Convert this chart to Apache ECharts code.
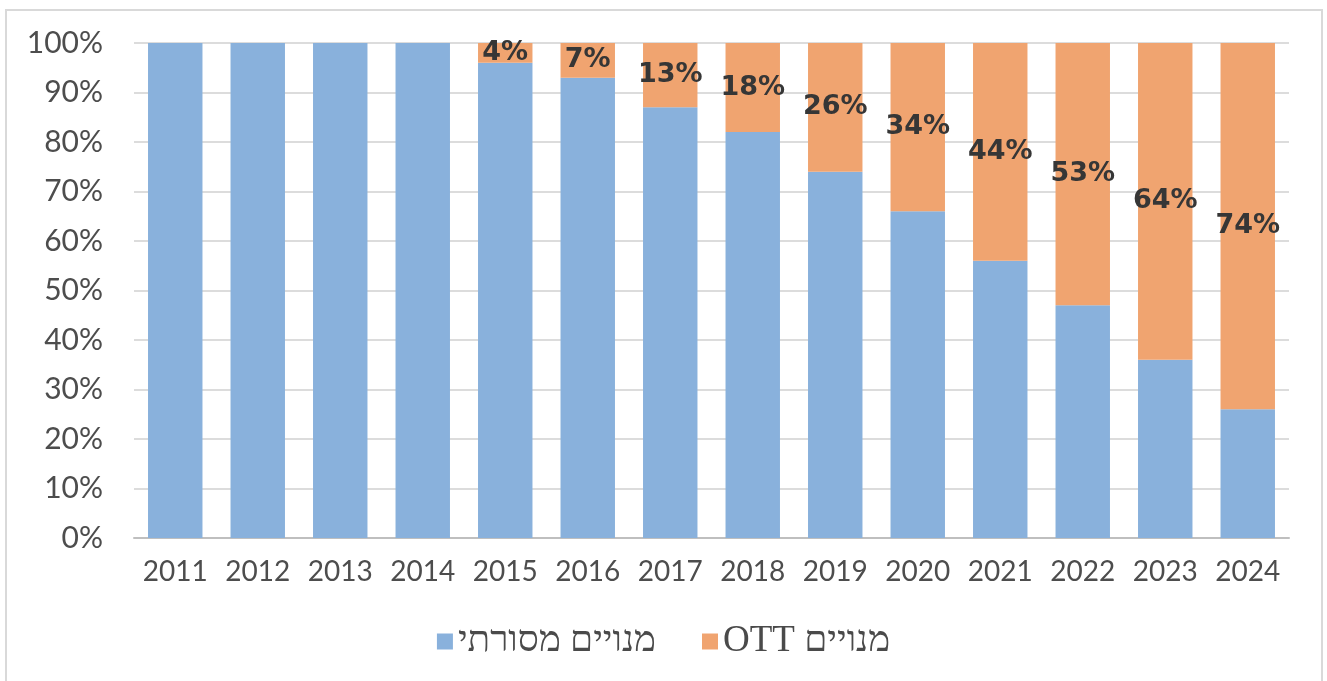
<!DOCTYPE html>
<html>
<head>
<meta charset="utf-8">
<script src="https://cdn.jsdelivr.net/npm/echarts@6/dist/echarts.min.js"></script>
<style>
  html, body { margin: 0; padding: 0; background: #fff; }
  #main { width: 1327px; height: 681px; }
</style>
</head>
<body>
<div id="main"></div>
<script>
// data
var years = ['2011', '2012', '2013', '2014', '2015', '2016', '2017', '2018', '2019', '2020', '2021', '2022', '2023', '2024'];
var ottShare = [0, 0, 0, 0, 4, 7, 13, 18, 26, 34, 44, 53, 64, 74];
var traditionalShare = [100, 100, 100, 100, 96, 93, 87, 82, 74, 66, 56, 47, 36, 26];
var seriesNames = ['מנויים מסורתי', 'מנויים OTT'];

var myChart = echarts.init(document.getElementById('main'));

var option = {
    backgroundColor: '#fff',
    animation: false,
    graphic: [{
        type: 'rect',
        shape: { x: 6, y: 10, width: 1316, height: 700 },
        style: { fill: 'none', stroke: '#d9d9d9', lineWidth: 2 },
        silent: true
    }],
    grid: { left: 134, right: 38, top: 43, bottom: 143 },
    legend: {
        bottom: 16,
        left: 'center',
        itemWidth: 16,
        itemHeight: 16,
        itemGap: 46,
        icon: 'rect',
        // RTL isolate so the Hebrew reads right to left
        formatter: function(name) { return '\u2067' + name + '\u2069'; },
        textStyle: { fontFamily: 'Liberation Serif', fontSize: 37, color: '#4a4a4a' },
        data: seriesNames
    },
    xAxis: {
        type: 'category',
        data: years,
        axisLine: { lineStyle: { color: '#bfbfbf', width: 2 } },
        axisTick: { show: false },
        axisLabel: { interval: 0, fontFamily: 'Lato', fontSize: 28, color: '#4d4d4d', margin: 20 }
    },
    yAxis: {
        type: 'value',
        min: 0,
        max: 100,
        interval: 10,
        axisLine: { show: false },
        axisTick: { show: false },
        splitLine: { lineStyle: { color: '#dcdcdc', width: 2 } },
        axisLabel: {
            fontFamily: 'Lato', fontSize: 30, color: '#4d4d4d', margin: 31,
            formatter: '{value}%'
        }
    },
    series: [{
        name: seriesNames[0],
        type: 'bar',
        stack: 'total',
        barWidth: '66%',
        itemStyle: { color: '#89b1dc' },
        data: traditionalShare
    }, {
        name: seriesNames[1],
        type: 'bar',
        stack: 'total',
        itemStyle: { color: '#f0a470' },
        label: {
            show: true,
            position: 'inside',
            fontFamily: 'DejaVu Sans',
            fontWeight: 'bold',
            fontSize: 27,
            color: '#363636',
            formatter: function(p) { return p.value > 0 ? p.value + '%' : ''; }
        },
        data: ottShare
    }]
};

myChart.setOption(option);

window.addEventListener('resize', function() {
    myChart.resize();
});
</script>
</body>
</html>
